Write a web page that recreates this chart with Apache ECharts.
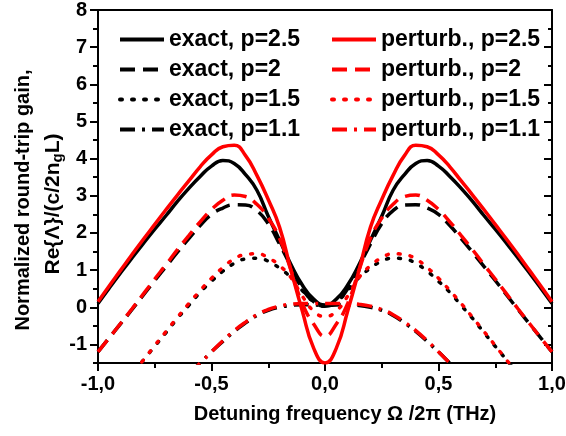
<!DOCTYPE html>
<html>
<head>
<meta charset="utf-8">
<script src="https://cdn.jsdelivr.net/npm/echarts@6/dist/echarts.min.js"></script>
<style>
html, body { margin: 0; padding: 0; background: #fff; }
#main { width: 566px; height: 436px; }
</style>
</head>
<body>
<div id="main"></div>
<script>
// detuning frequency Omega/2pi (THz)
var omega = [-1, -0.95, -0.9, -0.85, -0.8, -0.75, -0.7, -0.65, -0.6, -0.55, -0.5,
    -0.45, -0.4, -0.35, -0.3, -0.25, -0.2, -0.15, -0.1, -0.05, 0,
    0.05, 0.1, 0.15, 0.2, 0.25, 0.3, 0.35, 0.4, 0.45, 0.5,
    0.55, 0.6, 0.65, 0.7, 0.75, 0.8, 0.85, 0.9, 0.95, 1];

// exact solutions
var exact25 = [0.1, 0.52, 0.93, 1.33, 1.72, 2.1, 2.47, 2.85, 3.2, 3.52, 3.8,
    3.95, 3.87, 3.57, 3.15, 2.45, 1.8, 1.15, 0.6, 0.22, 0.06,
    0.22, 0.6, 1.15, 1.8, 2.45, 3.15, 3.57, 3.87, 3.95, 3.8,
    3.52, 3.2, 2.85, 2.47, 2.1, 1.72, 1.33, 0.93, 0.52, 0.1];
var exact2 = [-1.2, -0.82, -0.44, -0.06, 0.33, 0.72, 1.1, 1.48, 1.85, 2.2, 2.5,
    2.67, 2.76, 2.75, 2.6, 2.25, 1.7, 1.1, 0.5, 0.15, 0.03,
    0.15, 0.5, 1.1, 1.7, 2.25, 2.6, 2.75, 2.76, 2.67, 2.5,
    2.2, 1.85, 1.48, 1.1, 0.72, 0.33, -0.06, -0.44, -0.82, -1.2];
var exact15 = [-3.0, -2.6, -2.2, -1.8, -1.42, -1.05, -0.68, -0.3, 0.05, 0.4, 0.7,
    0.97, 1.18, 1.3, 1.32, 1.24, 1.05, 0.8, 0.45, 0.15, 0.03,
    0.15, 0.45, 0.8, 1.05, 1.24, 1.32, 1.3, 1.18, 0.97, 0.7,
    0.4, 0.05, -0.3, -0.68, -1.05, -1.42, -1.8, -2.2, -2.6, -3.0];
var exact11 = [-4.2, -3.9, -3.6, -3.3, -3.0, -2.7, -2.4, -2.1, -1.8, -1.5, -1.2,
    -0.92, -0.65, -0.42, -0.22, -0.08, 0.0, 0.05, 0.07, 0.06, 0.05,
    0.06, 0.07, 0.05, 0.0, -0.08, -0.22, -0.42, -0.65, -0.92, -1.2,
    -1.5, -1.8, -2.1, -2.4, -2.7, -3.0, -3.3, -3.6, -3.9, -4.2];

// perturbative solutions
var pert25 = [0.15, 0.58, 1.0, 1.42, 1.83, 2.23, 2.63, 3.02, 3.4, 3.78, 4.1,
    4.32, 4.36, 4.08, 3.55, 2.9, 2.15, 1.0, -0.1, -1.1, -1.5,
    -1.1, -0.1, 1.0, 2.15, 2.9, 3.55, 4.08, 4.36, 4.32, 4.1,
    3.78, 3.4, 3.02, 2.63, 2.23, 1.83, 1.42, 1.0, 0.58, 0.15];
var pert2 = [-1.2, -0.82, -0.43, -0.04, 0.36, 0.76, 1.15, 1.55, 1.93, 2.3, 2.63,
    2.88, 3.02, 2.98, 2.77, 2.4, 1.85, 1.0, 0.1, -0.45, -0.78,
    -0.45, 0.1, 1.0, 1.85, 2.4, 2.77, 2.98, 3.02, 2.88, 2.63,
    2.3, 1.93, 1.55, 1.15, 0.76, 0.36, -0.04, -0.43, -0.82, -1.2];
var pert15 = [-3.0, -2.6, -2.2, -1.8, -1.42, -1.03, -0.65, -0.27, 0.1, 0.45, 0.78,
    1.07, 1.3, 1.42, 1.44, 1.33, 1.12, 0.8, 0.3, -0.1, -0.25,
    -0.1, 0.3, 0.8, 1.12, 1.33, 1.44, 1.42, 1.3, 1.07, 0.78,
    0.45, 0.1, -0.27, -0.65, -1.03, -1.42, -1.8, -2.2, -2.6, -3.0];
var pert11 = [-4.2, -3.9, -3.6, -3.3, -3.0, -2.7, -2.4, -2.1, -1.8, -1.5, -1.2,
    -0.9, -0.63, -0.4, -0.2, -0.06, 0.03, 0.08, 0.1, 0.1, 0.1,
    0.1, 0.1, 0.08, 0.03, -0.06, -0.2, -0.4, -0.63, -0.9, -1.2,
    -1.5, -1.8, -2.1, -2.4, -2.7, -3.0, -3.3, -3.6, -3.9, -4.2];

var yMajor = [-1, 0, 1, 2, 3, 4, 5, 6, 7, 8];

var FONT = 'Liberation Sans, Arial, sans-serif';
var SOLID = 'solid';
var DASH = [15, 8];
var DOT = [2, 10];
var DASHDOT = [15, 7, 3, 7];

function pairs(ys) {
    return omega.map(function (x, i) { return [x, ys[i]]; });
}

function curve(name, ys, color, dash, z) {
    return {
        name: name,
        type: 'line',
        data: pairs(ys),
        smooth: 0.5,
        symbol: 'none',
        z: z,
        itemStyle: { color: color },
        lineStyle: { color: color, width: 3.5, type: dash, cap: dash === DOT ? 'round' : 'butt' }
    };
}

var chart = echarts.init(document.getElementById('main'));

var legendText = { fontFamily: FONT, fontSize: 23, fontWeight: 'bold', color: '#000' };
var black = { color: '#000', width: 2 };

var option = {
    animation: false,
    backgroundColor: '#fff',
    grid: { left: 98, right: 14, top: 10, bottom: 73, containLabel: false, outerBoundsMode: 'none' },
    legend: [{
        data: ['exact, p=2.5', 'exact, p=2', 'exact, p=1.5', 'exact, p=1.1'],
        orient: 'vertical',
        left: 113, top: 23,
        itemWidth: 44, itemHeight: 12, itemGap: 7,
        selectedMode: false,
        itemStyle: { opacity: 0 },
        lineStyle: { width: 4 },
        textStyle: legendText
    }, {
        data: ['perturb., p=2.5', 'perturb., p=2', 'perturb., p=1.5', 'perturb., p=1.1'],
        orient: 'vertical',
        left: 325, top: 23,
        itemWidth: 44, itemHeight: 12, itemGap: 7,
        selectedMode: false,
        itemStyle: { opacity: 0 },
        lineStyle: { width: 4 },
        textStyle: legendText
    }],
    xAxis: [{
        type: 'value', min: -1, max: 1, interval: 0.5, position: 'bottom',
        name: 'Detuning frequency \u03A9 /2\u03C0 (THz)',
        nameLocation: 'middle', nameGap: 41,
        nameTextStyle: { fontFamily: FONT, fontSize: 20, fontWeight: 'bold', color: '#000', padding: [0, 0, 0, 40] },
        axisLine: { onZero: false, lineStyle: black },
        axisTick: { length: 8, lineStyle: black },
        minorTick: { show: true, splitNumber: 2, length: 5, lineStyle: black },
        axisLabel: {
            margin: 11, fontFamily: FONT, fontSize: 20, fontWeight: 'bold', color: '#000',
            formatter: function (v) { return v.toFixed(1).replace('.', ','); }
        },
        splitLine: { show: false }
    }, {
        type: 'value', min: -1, max: 1, position: 'top',
        axisLine: { onZero: false, lineStyle: black },
        axisTick: { show: false }, axisLabel: { show: false }, splitLine: { show: false }
    }],
    yAxis: [{
        type: 'value', min: -1.5, max: 8, position: 'left',
        axisLine: { show: true, onZero: false, lineStyle: black },
        axisTick: { show: true, customValues: yMajor, length: 8, lineStyle: black },
        axisLabel: {
            customValues: yMajor, margin: 11,
            fontFamily: FONT, fontSize: 20, fontWeight: 'bold', color: '#000'
        },
        splitLine: { show: false }
    }, {
        type: 'value', min: -1.5, max: 8, interval: 0.5, position: 'left',
        axisLine: { show: false, onZero: false },
        axisTick: { show: true, length: 5, lineStyle: black },
        axisLabel: { show: false }, splitLine: { show: false }
    }, {
        type: 'value', min: -1.5, max: 8, position: 'right',
        axisLine: { show: true, onZero: false, lineStyle: black },
        axisTick: { show: true, inside: true, customValues: yMajor, length: 8, lineStyle: black },
        axisLabel: { show: false }, splitLine: { show: false }
    }, {
        type: 'value', min: -1.5, max: 8, interval: 0.5, position: 'right',
        axisLine: { show: false, onZero: false },
        axisTick: { show: true, inside: true, length: 4, lineStyle: black },
        axisLabel: { show: false }, splitLine: { show: false }
    }],
    graphic: [{
        type: 'text', x: 23, y: 200, rotation: Math.PI / 2,
        style: {
            text: 'Normalized round-trip gain,',
            font: 'bold 20px ' + FONT, fill: '#000',
            align: 'center', verticalAlign: 'middle'
        }
    }, {
        type: 'text', x: 53, y: 204, rotation: Math.PI / 2,
        style: {
            text: 'Re{\u039B}/(c/2n{s|g}L)',
            font: 'bold 21px ' + FONT, fill: '#000',
            align: 'center', verticalAlign: 'middle',
            rich: {
                s: { font: 'bold 15px ' + FONT, fill: '#000', verticalAlign: 'bottom', padding: [9, 0, 0, 0] }
            }
        }
    }],
    series: [
        curve('exact, p=2.5', exact25, '#000', SOLID, 2),
        curve('exact, p=2', exact2, '#000', DASH, 2),
        curve('exact, p=1.5', exact15, '#000', DOT, 2),
        curve('exact, p=1.1', exact11, '#000', DASHDOT, 2),
        curve('perturb., p=2.5', pert25, '#ff0000', SOLID, 3),
        curve('perturb., p=2', pert2, '#ff0000', DASH, 3),
        curve('perturb., p=1.5', pert15, '#ff0000', DOT, 3),
        curve('perturb., p=1.1', pert11, '#ff0000', DASHDOT, 3)
    ]
};

chart.setOption(option);
</script>
</body>
</html>
